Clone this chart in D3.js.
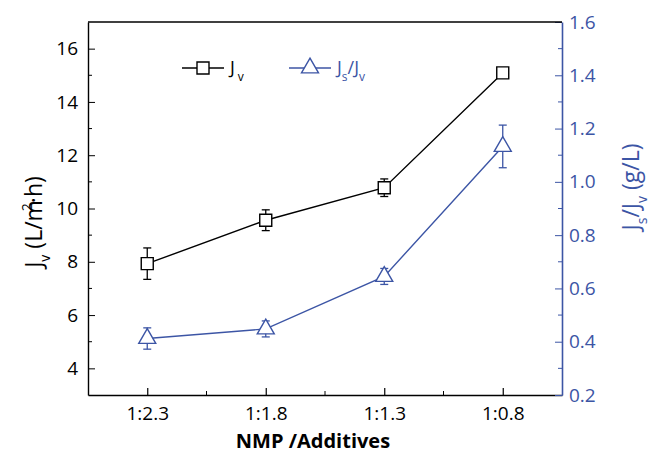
<!DOCTYPE html>
<html>
<head>
<meta charset="utf-8">
<script src="https://cdn.jsdelivr.net/npm/d3@7"></script>
<style>
  body { margin: 0; background: #fff; }
  svg { font-family: "Open Sans", sans-serif; }
</style>
</head>
<body>
<div id="chart"></div>
<script>
const categories = ["1:2.3", "1:1.8", "1:1.3", "1:0.8"];
const jv = [7.93, 9.56, 10.78, 15.09];
const jvErr = [0.59, 0.39, 0.33, 0.12];
const ratio = [0.412, 0.448, 0.645, 1.133];
const ratioErr = [0.04, 0.03, 0.03, 0.08];
const leftTicks = [4, 6, 8, 10, 12, 14, 16];
const rightTicks = [0.2, 0.4, 0.6, 0.8, 1.0, 1.2, 1.4, 1.6];

const blue = "#3c55a5";
const margin = { top: 22, right: 89, bottom: 58, left: 88 };
const W = 651, H = 453;
const width = W - margin.left - margin.right;
const height = H - margin.top - margin.bottom;

const svg = d3.select("#chart").append("svg")
  .attr("width", W).attr("height", H);
const g = svg.append("g")
  .attr("transform", `translate(${margin.left},${margin.top})`);

const x = d3.scaleLinear().domain([-0.5, 3.5]).range([0, width]);
const y = d3.scaleLinear().domain([3, 17]).range([height, 0]);
const y2 = d3.scaleLinear().domain([0.2, 1.6]).range([height, 0]);

// axes
const xAxis = g.append("g").attr("transform", `translate(0,${height})`)
  .call(d3.axisBottom(x).tickValues(d3.range(categories.length))
    .tickFormat(i => categories[i]).tickSizeInner(-7).tickSizeOuter(0).tickPadding(12));
xAxis.selectAll(".tick line").attr("stroke-width", 1.2);
xAxis.append("g").selectAll("line").data([0.5, 1.5, 2.5]).join("line")
  .attr("x1", d => x(d)).attr("x2", d => x(d)).attr("y1", 0).attr("y2", -4)
  .attr("stroke", "#000");

const yAxis = g.append("g")
  .call(d3.axisLeft(y).tickValues(leftTicks).tickSizeInner(-7).tickSizeOuter(0).tickPadding(10));
yAxis.append("g").selectAll("line").data([5, 7, 9, 11, 13, 15]).join("line")
  .attr("y1", d => y(d)).attr("y2", d => y(d)).attr("x1", 0).attr("x2", 4)
  .attr("stroke", "#000");

const y2Axis = g.append("g").attr("transform", `translate(${width},0)`)
  .call(d3.axisRight(y2).tickValues(rightTicks).tickFormat(d3.format(".1f"))
    .tickSizeInner(-7).tickSizeOuter(0).tickPadding(7));
y2Axis.select(".domain").attr("stroke", blue).attr("stroke-width", 1.6);
y2Axis.selectAll(".tick line").attr("stroke", blue);
y2Axis.selectAll(".tick text").attr("fill", blue);
y2Axis.append("g").selectAll("line").data([0.3, 0.5, 0.7, 0.9, 1.1, 1.3, 1.5]).join("line")
  .attr("y1", d => y2(d)).attr("y2", d => y2(d)).attr("x1", 0).attr("x2", -4)
  .attr("stroke", blue);

[xAxis, yAxis, y2Axis].forEach(a => a.selectAll(".tick text")
  .attr("font-size", 19).attr("font-family", "Open Sans"));
xAxis.select(".domain").attr("stroke-width", 1.4);
yAxis.select(".domain").attr("stroke-width", 1.4);

// top frame line
g.append("line").attr("x1", 0).attr("x2", width).attr("y1", 0).attr("y2", 0)
  .attr("stroke", "#000").attr("stroke-width", 1.4);

// axis titles
const lt = g.append("text")
  .attr("transform", `translate(${-46},${200}) rotate(-90)`)
  .attr("text-anchor", "middle").attr("font-size", 23);
lt.append("tspan").text("J");
lt.append("tspan").attr("font-size", 14).attr("dy", 8).text("v");
lt.append("tspan").attr("dy", -8).text(" (L/m");
lt.append("tspan").attr("font-size", 14).attr("dx", -11).attr("dy", -10).text("2");
lt.append("tspan").attr("dy", 10).text("·h)");

const rt = g.append("text")
  .attr("transform", `translate(${width + 77},${165}) rotate(-90)`)
  .attr("text-anchor", "middle").attr("font-size", 23).attr("fill", blue);
rt.append("tspan").text("J");
rt.append("tspan").attr("font-size", 14).attr("dy", 8).text("s");
rt.append("tspan").attr("dy", -8).text("/J");
rt.append("tspan").attr("font-size", 14).attr("dy", 8).text("v");
rt.append("tspan").attr("dy", -8).text(" (g/L)");

g.append("text").attr("x", width / 2 - 12).attr("y", height + 53)
  .attr("text-anchor", "middle").attr("font-size", 20).attr("font-weight", "bold")
  .text("NMP /Additives");

// series
const line1 = d3.line().x((d, i) => x(i)).y(d => y(d));
const line2 = d3.line().x((d, i) => x(i)).y(d => y2(d));

function errorBars(vals, errs, scale, color) {
  const eb = g.append("g").attr("stroke", color).attr("stroke-width", 1.3);
  vals.forEach((v, i) => {
    const cx = x(i), t = scale(v + errs[i]), b = scale(v - errs[i]);
    eb.append("line").attr("x1", cx).attr("x2", cx).attr("y1", t).attr("y2", b);
    eb.append("line").attr("x1", cx - 4).attr("x2", cx + 4).attr("y1", t).attr("y2", t);
    eb.append("line").attr("x1", cx - 4).attr("x2", cx + 4).attr("y1", b).attr("y2", b);
  });
}

errorBars(jv, jvErr, y, "#000");
errorBars(ratio, ratioErr, y2, blue);

g.append("path").datum(jv).attr("d", line1)
  .attr("fill", "none").attr("stroke", "#000").attr("stroke-width", 1.4);
g.append("path").datum(ratio).attr("d", line2)
  .attr("fill", "none").attr("stroke", blue).attr("stroke-width", 1.4);

const sq = d3.symbol().type(d3.symbolSquare).size(144);
const tri = d3.symbol().type(d3.symbolTriangle).size(125);

g.selectAll(".sq").data(jv).join("path").attr("class", "sq")
  .attr("transform", (d, i) => `translate(${x(i)},${y(d)})`)
  .attr("d", sq).attr("fill", "#fff").attr("stroke", "#000").attr("stroke-width", 1.4);
g.selectAll(".tri").data(ratio).join("path").attr("class", "tri")
  .attr("transform", (d, i) => `translate(${x(i)},${y2(d)})`)
  .attr("d", tri).attr("fill", "#fff").attr("stroke", blue).attr("stroke-width", 1.4);

// legend
const leg = svg.append("g").attr("font-size", 18);
const l1 = leg.append("g").attr("transform", "translate(203,68)");
l1.append("line").attr("x1", -21).attr("x2", 21).attr("stroke", "#000").attr("stroke-width", 1.4);
l1.append("path").attr("d", sq).attr("fill", "#fff").attr("stroke", "#000").attr("stroke-width", 1.4);
const l1t = l1.append("text").attr("x", 27).attr("y", 6);
l1t.append("tspan").text("J");
l1t.append("tspan").attr("font-size", 12).attr("dx", 3).attr("dy", 7).text("v");

const l2 = leg.append("g").attr("transform", "translate(310,68)");
l2.append("line").attr("x1", -21).attr("x2", 21).attr("stroke", blue).attr("stroke-width", 1.4);
l2.append("path").attr("d", tri).attr("fill", "#fff").attr("stroke", blue).attr("stroke-width", 1.4);
const l2t = l2.append("text").attr("x", 27).attr("y", 6).attr("fill", blue);
l2t.append("tspan").text("J");
l2t.append("tspan").attr("font-size", 12).attr("dy", 7).text("s");
l2t.append("tspan").attr("dy", -7).text("/J");
l2t.append("tspan").attr("font-size", 12).attr("dy", 7).text("v");
</script>
</body>
</html>
